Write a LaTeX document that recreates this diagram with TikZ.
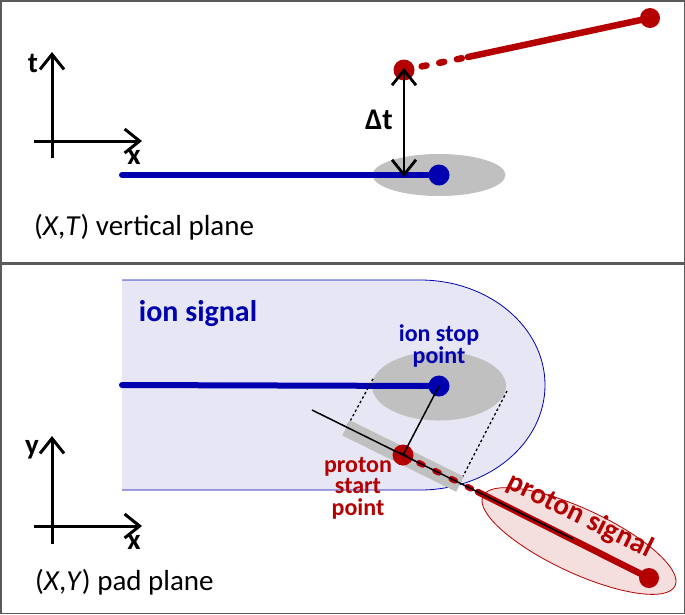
\documentclass[tikz,border=0pt]{standalone}
\usepackage{fontspec}
\setmainfont{Carlito}
\usetikzlibrary{arrows.meta,shapes.geometric}
\definecolor{myblue}{RGB}{0,0,176}
\definecolor{myred}{RGB}{180,0,0}
\definecolor{blobgray}{RGB}{192,192,192}
\definecolor{lav}{RGB}{230,230,245}
\definecolor{pinkfill}{RGB}{245,222,222}
\definecolor{framegray}{RGB}{90,90,90}
\begin{document}
\begin{tikzpicture}[x=1pt,y=-1pt,
  frame/.style={draw=framegray,line width=1.5pt},
  axis/.style={line width=3pt,-{Straight Barb[length=15pt,width=24pt]}},
  axlabel/.style={font=\fontsize{29}{29}\selectfont\bfseries,inner sep=0pt},
  blueline/.style={myblue,line width=6pt,line cap=round},
  redline/.style={myred,line width=6.5pt,line cap=round},
  reddash/.style={myred,line width=6.5pt,line cap=round,dash pattern=on 5pt off 13pt},
  bluedot/.style={circle,fill=myblue,minimum size=21pt,inner sep=0pt},
  reddot/.style={circle,fill=myred,minimum size=21pt,inner sep=0pt},
  caption/.style={font=\fontsize{29}{29}\selectfont,anchor=west,inner sep=0pt},
  thinblack/.style={black,line width=1.5pt},
  dotline/.style={black,line width=1.3pt,dash pattern=on 2.5pt off 2.5pt}
]
\useasboundingbox (0,0) rectangle (685,614);
% frames
\draw[frame] (0.75,0.75) rectangle (684.25,263);
\draw[frame] (0.75,264) rectangle (684.25,613.25);

% ===== top panel =====
\coordinate (tO1) at (52,158);
\coordinate (tT1) at (52,52);
\coordinate (xO1) at (34,141);
\coordinate (xT1) at (142,141);
\draw[axis] (tO1) -- (tT1);
\draw[axis] (xO1) -- (xT1);
\node[axlabel] (tlab) at (33,63) {t};
\node[axlabel] (xlab1) at (134,157) {x};

\node[ellipse,fill=blobgray,minimum width=133pt,minimum height=42pt,inner sep=0pt] (blobT) at (439,175) {};
\coordinate (blueStartT) at (122,175);
\node[bluedot] (ionT) at (439,175) {};
\draw[blueline] (blueStartT) -- (ionT.center);

\node[reddot] (protT) at (404,70) {};
\node[reddot,minimum size=20pt] (protEndT) at (650,18) {};
\coordinate (solidStartT) at (468,57);
\draw[reddash] (protT.center) -- (solidStartT);
\draw[redline] (solidStartT) -- (protEndT.center);

\coordinate (dtTop) at (404,68);
\coordinate (dtBot) at (404,177);
\draw[line width=2.8pt,{Straight Barb[length=15pt,width=24pt]}-{Straight Barb[length=15pt,width=24pt]}] (dtTop) -- (dtBot);
\node[font=\fontsize{30}{30}\selectfont\bfseries,inner sep=0pt] (dtlab) at (379,120) {Δt};

\node[caption] (capT) at (34,227) {(\textit{X},\textit{T}) vertical plane};

% ===== bottom panel =====
\fill[lav] (122,280) -- (420,280) arc(-90:90:125 and 105) -- (122,490) -- cycle;
\draw[myblue,line width=0.8pt] (122,280) -- (420,280) arc(-90:90:125 and 105) -- (122,490);

\node[font=\fontsize{30}{30}\selectfont\bfseries,text=myblue,inner sep=0pt] (ionsig) at (198,314) {ion signal};

\node[ellipse,fill=blobgray,minimum width=134pt,minimum height=69pt,inner sep=0pt] (blobB) at (439,386) {};
\coordinate (blueStartB) at (122,385);
\node[bluedot] (ionB) at (439,386) {};
\draw[blueline] (blueStartB) -- (ionB.center);

\node[font=\fontsize{24}{22}\selectfont\bfseries,text=myblue,align=center,inner sep=0pt] (ionstop) at (439,346) {ion stop\\point};

% proton signal ellipse
\node[ellipse,rotate=-25,draw=myred,line width=0.8pt,fill=pinkfill,minimum width=212pt,minimum height=64pt,inner sep=0pt] (protsig) at (579,541) {};

% projection dotted lines
\coordinate (pl1) at (348,425);
\coordinate (pl2) at (374,377);
\coordinate (pr1) at (460,482);
\coordinate (pr2) at (507,391);
\draw[dotline] (pl1) -- (pl2);
\draw[dotline] (pr1) -- (pr2);

% gray rectangle along track
\node[rectangle,rotate=-26.3,fill=blobgray,minimum width=127pt,minimum height=17pt,inner sep=0pt] (projbar) at (403,456) {};

% track direction line
\coordinate (trA) at (312,410);
\coordinate (trB) at (573,539);

% red proton track
\node[reddot] (protB) at (403,455) {};
\node[reddot,minimum size=20pt] (protEndB) at (649,578) {};
\coordinate (solidStartB) at (478,492);
\draw[reddash,line width=6pt,dash pattern=on 4pt off 14pt] (protB.center) -- (solidStartB);
\draw[redline] (solidStartB) -- (protEndB.center);
\draw[thinblack] (trA) -- (trB);

% perpendicular from ion stop to track
\draw[thinblack,-{Bar[width=9pt,line width=1.5pt]}] (ionB.center) -- (protB.center);

\node[font=\fontsize{24}{21.5}\selectfont\bfseries,text=myred,align=center,inner sep=0pt] (pstart) at (358,488) {proton\\start\\point};

\node[font=\fontsize{29}{29}\selectfont\bfseries,text=myred,rotate=-26.3,inner sep=0pt] (protlab) at (580,516) {proton signal};

% bottom axes
\coordinate (yO2) at (52,544);
\coordinate (yT2) at (52,436);
\coordinate (xO2) at (34,526);
\coordinate (xT2) at (142,526);
\draw[axis] (yO2) -- (yT2);
\draw[axis] (xO2) -- (xT2);
\node[axlabel] (ylab) at (32,450) {y};
\node[axlabel] (xlab2) at (134,542) {x};

\node[caption] (capB) at (35,582) {(\textit{X},\textit{Y}) pad plane};
\end{tikzpicture}
\end{document}
